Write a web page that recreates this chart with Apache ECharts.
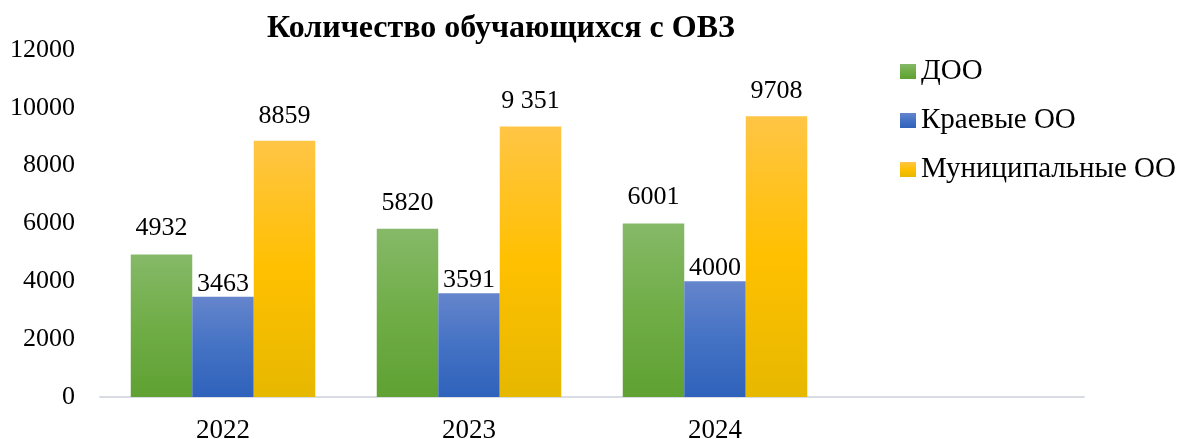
<!DOCTYPE html>
<html>
<head>
<meta charset="utf-8">
<script src="https://cdn.jsdelivr.net/npm/echarts@6/dist/echarts.min.js"></script>
<style>
  html, body { margin: 0; padding: 0; background: #fff; }
  #chart { width: 1183px; height: 439px; }
</style>
</head>
<body>
<div id="chart"></div>
<script>
const categories = ['2022', '2023', '2024', '']
const seriesNames = ['ДОО', 'Краевые ОО', 'Муниципальные ОО']
const dooValues = [4932, 5820, 6001]
const kraevyeValues = [3463, 3591, 4000]
const municipalValues = [8859, 9351, 9708]
const municipalLabels = ['8859', '9 351', '9708']

const FONT = '"Liberation Serif", "Times New Roman", serif'

function grad(top, mid, bottom) {
  return new echarts.graphic.LinearGradient(0, 0, 0, 1, [
    { offset: 0, color: top },
    { offset: 0.5, color: mid },
    { offset: 1, color: bottom },
  ])
}

const chart = echarts.init(document.getElementById('chart'))

const labelBase = {
  show: true,
  position: 'top',
  color: '#000',
  fontFamily: FONT,
  fontSize: 26,
}

const option = {
  animation: false,
  title: {
    text: 'Количество обучающихся с ОВЗ',
    left: 496,
    textAlign: 'center',
    top: 8,
    textStyle: { fontFamily: FONT, fontSize: 32, fontWeight: 'bold', color: '#000' },
  },
  legend: {
    orient: 'vertical',
    left: 895,
    top: 52,
    itemGap: 20,
    itemWidth: 16,
    itemHeight: 15,
    icon: 'rect',
    textStyle: { fontFamily: FONT, fontSize: 29, lineHeight: 28, color: '#000' },
    data: seriesNames,
  },
  grid: { left: 100, right: 99, top: 50, bottom: 42, outerBoundsMode: 'none', containLabel: false },
  xAxis: {
    type: 'category',
    data: categories,
    axisLine: { lineStyle: { color: '#d9dde3', width: 2 } },
    axisTick: { show: false },
    axisLabel: { color: '#000', fontFamily: FONT, fontSize: 27, margin: 20 },
  },
  yAxis: {
    type: 'value',
    min: 0,
    max: 12000,
    interval: 2000,
    splitLine: { show: false },
    axisLine: { show: false },
    axisTick: { show: false },
    axisLabel: { color: '#000', fontFamily: FONT, fontSize: 26, margin: 25, formatter: (v) => String(v) },
  },
  series: [
    {
      name: seriesNames[0],
      type: 'bar',
      data: dooValues,
      barGap: '0%',
      barCategoryGap: '25%',
      itemStyle: { color: grad('#86b968', '#70ad47', '#5fa132') },
      label: { ...labelBase, distance: 13 },
    },
    {
      name: seriesNames[1],
      type: 'bar',
      data: kraevyeValues,
      barGap: '0%',
      barCategoryGap: '25%',
      itemStyle: { color: grad('#6585cc', '#4472c4', '#2f62bb') },
      label: { ...labelBase, distance: 0 },
    },
    {
      name: seriesNames[2],
      type: 'bar',
      data: municipalValues,
      barGap: '0%',
      barCategoryGap: '25%',
      itemStyle: { color: grad('#ffc545', '#ffc000', '#e6b800') },
      label: {
        ...labelBase,
        distance: 12,
        formatter: (p) => municipalLabels[p.dataIndex],
      },
    },
  ],
}

chart.setOption(option)
</script>
</body>
</html>
